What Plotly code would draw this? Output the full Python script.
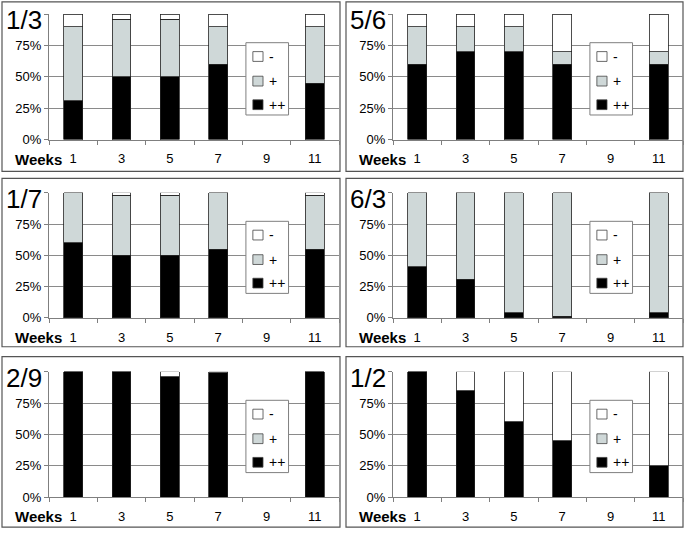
import plotly.graph_objects as go

W, H = 685, 538

weeks = ["1", "3", "5", "7", "9", "11"]
panel_labels = ["1/3", "5/6", "1/7", "6/3", "2/9", "1/2"]
series_names = ["++", "+", "-"]
series_colors = ["#000000", "#cfd8d8", "#ffffff"]
y_ticks = [0, 25, 50, 75, 100]
y_tick_text = ["0%", "25%", "50%", "75%", ""]

# percent per week, week 9 has no data
strong = [
    [31, 50, 50, 60, None, 45],
    [60, 70, 70, 60, None, 60],
    [60, 50, 50, 55, None, 55],
    [41, 31, 4, 1.5, None, 4],
    [100, 100, 96, 99, None, 100],
    [100, 85, 60, 45, None, 25],
]
weak = [
    [59, 46, 46, 30, None, 45],
    [30, 20, 20, 10, None, 10],
    [40, 48, 48, 45, None, 43],
    [59, 69, 96, 98.5, None, 96],
    [0, 0, 0, 0, None, 0],
    [0, 0, 0, 0, None, 0],
]
negative = [
    [10, 4, 4, 10, None, 10],
    [10, 10, 10, 30, None, 30],
    [0, 2, 2, 0, None, 2],
    [0, 0, 0, 0, None, 0],
    [0, 0, 4, 1, None, 0],
    [0, 15, 40, 55, None, 75],
]

# pixel layout of the 3x2 grid
col_x = [(49, 339), (393, 683)]
row_y = [(14.3, 141.7), (195.7, 322.7), (377.3, 504.7)]
box_x = [(2, 340), (346, 683)]
box_y = [(2, 174), (181, 352), (362, 535)]

FONT = "Liberation Sans, Arial, sans-serif"
AXIS_GRAY = "#7f7f7f"


def px_x(v):
    return v / W


def px_y(v):
    return 1 - v / H


fig = go.Figure()
layout = dict(
    width=W, height=H,
    margin=dict(l=0, r=0, t=0, b=0),
    paper_bgcolor="white", plot_bgcolor="white",
    barmode="stack", bargap=0.61,
    showlegend=False,
    font=dict(family=FONT, size=13, color="black"),
)
shapes = []
annotations = []

for i, label in enumerate(panel_labels):
    r, c = divmod(i, 2)
    n = "" if i == 0 else str(i + 1)
    x0, x1 = col_x[c]
    y0, y1 = row_y[r]

    for name, color, vals in zip(series_names, series_colors,
                                 [strong[i], weak[i], negative[i]]):
        fig.add_trace(go.Bar(
            x=weeks, y=vals, name=name,
            marker=dict(color=color, line=dict(color="#222222", width=0.8)),
            xaxis="x" + n, yaxis="y" + n,
        ))

    layout["xaxis" + n] = dict(
        domain=[px_x(x0), px_x(x1)], anchor="y" + n,
        type="category", categoryorder="array", categoryarray=weeks,
        showline=True, linecolor=AXIS_GRAY, linewidth=1,
        ticks="outside", tickson="boundaries", ticklen=4, tickcolor=AXIS_GRAY,
        ticklabelstandoff=7, showgrid=False,
        tickfont=dict(size=13),
    )
    layout["yaxis" + n] = dict(
        domain=[px_y(y1), px_y(y0)], anchor="x" + n,
        range=[0, 100], tickvals=y_ticks, ticktext=y_tick_text,
        showgrid=True, gridcolor="#8a8a8a", gridwidth=1, zeroline=False,
        showline=True, linecolor=AXIS_GRAY, linewidth=1,
        ticks="outside", ticklen=4, tickcolor=AXIS_GRAY,
        tickfont=dict(size=13),
    )

    # panel frame
    shapes.append(dict(
        type="rect", xref="paper", yref="paper",
        x0=px_x(box_x[c][0]), x1=px_x(box_x[c][1]),
        y0=px_y(box_y[r][1]), y1=px_y(box_y[r][0]),
        line=dict(color="#555555", width=1.2), layer="below",
    ))

    # panel label and axis caption
    annotations.append(dict(
        text=label, xref="paper", yref="paper",
        x=px_x(box_x[c][0] + 2), y=px_y(y0 + 6),
        xanchor="left", yanchor="middle", showarrow=False,
        font=dict(size=26, color="black"),
    ))
    annotations.append(dict(
        text="<b>Weeks</b>", xref="paper", yref="paper",
        x=px_x(x0 + 15), y=px_y(y1 + 20),
        xanchor="right", yanchor="middle", showarrow=False,
        font=dict(size=15, color="black"),
    ))

    # legend box
    xd, yd = "x" + n + " domain", "y" + n + " domain"
    shapes.append(dict(
        type="rect", xref=xd, yref=yd,
        x0=0.679, x1=0.826, y0=0.196, y1=0.772,
        fillcolor="white", line=dict(color=AXIS_GRAY, width=1), layer="above",
    ))
    for k, (name, color) in enumerate(zip(series_names[::-1], series_colors[::-1])):
        yc = [0.662, 0.466, 0.278][k]
        shapes.append(dict(
            type="rect", xref=xd, yref=yd,
            x0=0.703, x1=0.738, y0=yc - 0.039, y1=yc + 0.039,
            fillcolor=color, line=dict(color="#444444", width=0.8), layer="above",
        ))
        annotations.append(dict(
            text=name, xref=xd, yref=yd, x=0.752, y=yc,
            xanchor="left", yanchor="middle", showarrow=False,
            font=dict(size=14, color="#000000"),
        ))

layout["shapes"] = shapes
layout["annotations"] = annotations
fig.update_layout(**layout)

# drop the page's default body margin so the figure sits at the window origin
fig.write_html(
    "out.html",
    config={"displayModeBar": False},
    post_script="document.body.style.margin = '0';",
)
